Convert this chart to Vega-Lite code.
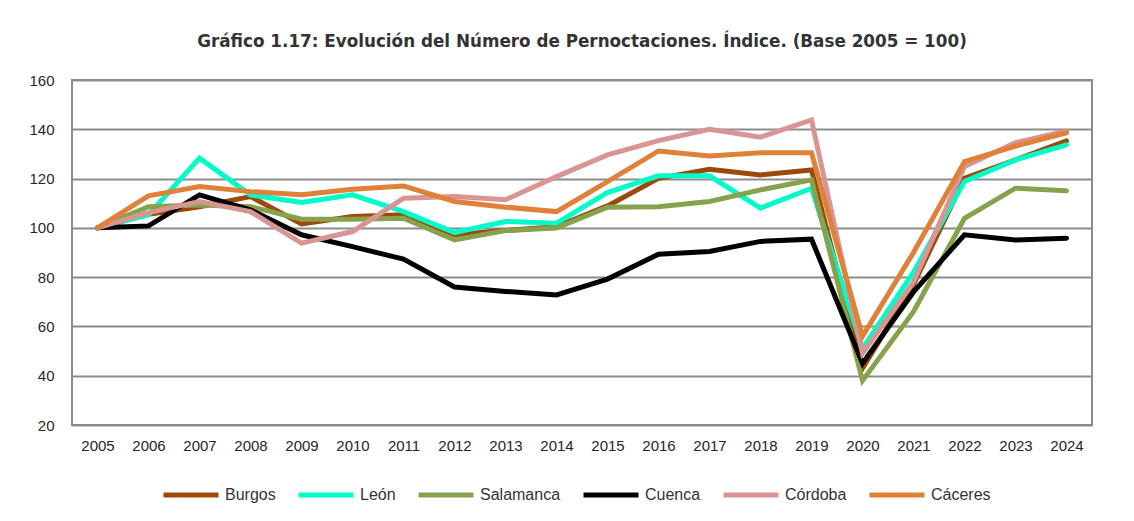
{
  "$schema": "https://vega.github.io/schema/vega-lite/v6.json",
  "autosize": {"type": "none"},
  "width": 1020,
  "height": 345,
  "padding": {"left": 72, "top": 80, "right": 42, "bottom": 96},
  "background": "white",
  "title": {
    "text": "Gráfico 1.17: Evolución del Número de Pernoctaciones. Índice. (Base 2005 = 100)",
    "font": "DejaVu Sans",
    "fontSize": 16.8,
    "fontWeight": "bold",
    "color": "#333333",
    "anchor": "middle",
    "offset": 22
  },
  "config": {
    "view": {"stroke": "#8c8c8c", "strokeWidth": 2},
    "axis": {"labelFont": "Liberation Sans", "labelColor": "#262626", "labelFontSize": 15}
  },
  "data": {
    "values": [
      {"year": "2005", "city": "Burgos", "value": 100},
      {"year": "2006", "city": "Burgos", "value": 105.5},
      {"year": "2007", "city": "Burgos", "value": 108.6},
      {"year": "2008", "city": "Burgos", "value": 112.7},
      {"year": "2009", "city": "Burgos", "value": 101.6},
      {"year": "2010", "city": "Burgos", "value": 104.6},
      {"year": "2011", "city": "Burgos", "value": 105.3},
      {"year": "2012", "city": "Burgos", "value": 97.2},
      {"year": "2013", "city": "Burgos", "value": 98.9},
      {"year": "2014", "city": "Burgos", "value": 100.5},
      {"year": "2015", "city": "Burgos", "value": 108.9},
      {"year": "2016", "city": "Burgos", "value": 120.1},
      {"year": "2017", "city": "Burgos", "value": 123.8},
      {"year": "2018", "city": "Burgos", "value": 121.5},
      {"year": "2019", "city": "Burgos", "value": 123.5},
      {"year": "2020", "city": "Burgos", "value": 43},
      {"year": "2021", "city": "Burgos", "value": 77},
      {"year": "2022", "city": "Burgos", "value": 120.1},
      {"year": "2023", "city": "Burgos", "value": 127.6},
      {"year": "2024", "city": "Burgos", "value": 135.3},

      {"year": "2005", "city": "León", "value": 100},
      {"year": "2006", "city": "León", "value": 105.3},
      {"year": "2007", "city": "León", "value": 128.3},
      {"year": "2008", "city": "León", "value": 113.4},
      {"year": "2009", "city": "León", "value": 110.3},
      {"year": "2010", "city": "León", "value": 113.4},
      {"year": "2011", "city": "León", "value": 106.6},
      {"year": "2012", "city": "León", "value": 98.1},
      {"year": "2013", "city": "León", "value": 102.6},
      {"year": "2014", "city": "León", "value": 101.9},
      {"year": "2015", "city": "León", "value": 114.3},
      {"year": "2016", "city": "León", "value": 121.1},
      {"year": "2017", "city": "León", "value": 121.1},
      {"year": "2018", "city": "León", "value": 108},
      {"year": "2019", "city": "León", "value": 116.1},
      {"year": "2020", "city": "León", "value": 51},
      {"year": "2021", "city": "León", "value": 82},
      {"year": "2022", "city": "León", "value": 118.8},
      {"year": "2023", "city": "León", "value": 127.6},
      {"year": "2024", "city": "León", "value": 133.7},

      {"year": "2005", "city": "Salamanca", "value": 100},
      {"year": "2006", "city": "Salamanca", "value": 108.6},
      {"year": "2007", "city": "Salamanca", "value": 109.3},
      {"year": "2008", "city": "Salamanca", "value": 108.6},
      {"year": "2009", "city": "Salamanca", "value": 103.5},
      {"year": "2010", "city": "Salamanca", "value": 103.5},
      {"year": "2011", "city": "Salamanca", "value": 103.9},
      {"year": "2012", "city": "Salamanca", "value": 95.1},
      {"year": "2013", "city": "Salamanca", "value": 98.9},
      {"year": "2014", "city": "Salamanca", "value": 99.9},
      {"year": "2015", "city": "Salamanca", "value": 108.4},
      {"year": "2016", "city": "Salamanca", "value": 108.6},
      {"year": "2017", "city": "Salamanca", "value": 110.7},
      {"year": "2018", "city": "Salamanca", "value": 115.4},
      {"year": "2019", "city": "Salamanca", "value": 119.5},
      {"year": "2020", "city": "Salamanca", "value": 38},
      {"year": "2021", "city": "Salamanca", "value": 66},
      {"year": "2022", "city": "Salamanca", "value": 103.9},
      {"year": "2023", "city": "Salamanca", "value": 116.1},
      {"year": "2024", "city": "Salamanca", "value": 115.1},

      {"year": "2005", "city": "Cuenca", "value": 100},
      {"year": "2006", "city": "Cuenca", "value": 100.8},
      {"year": "2007", "city": "Cuenca", "value": 113.4},
      {"year": "2008", "city": "Cuenca", "value": 107.3},
      {"year": "2009", "city": "Cuenca", "value": 97.2},
      {"year": "2010", "city": "Cuenca", "value": 92.4},
      {"year": "2011", "city": "Cuenca", "value": 87.3},
      {"year": "2012", "city": "Cuenca", "value": 76},
      {"year": "2013", "city": "Cuenca", "value": 74.2},
      {"year": "2014", "city": "Cuenca", "value": 72.8},
      {"year": "2015", "city": "Cuenca", "value": 79.2},
      {"year": "2016", "city": "Cuenca", "value": 89.3},
      {"year": "2017", "city": "Cuenca", "value": 90.4},
      {"year": "2018", "city": "Cuenca", "value": 94.5},
      {"year": "2019", "city": "Cuenca", "value": 95.4},
      {"year": "2020", "city": "Cuenca", "value": 45},
      {"year": "2021", "city": "Cuenca", "value": 74},
      {"year": "2022", "city": "Cuenca", "value": 97.2},
      {"year": "2023", "city": "Cuenca", "value": 95.1},
      {"year": "2024", "city": "Cuenca", "value": 95.8},

      {"year": "2005", "city": "Córdoba", "value": 100},
      {"year": "2006", "city": "Córdoba", "value": 106.2},
      {"year": "2007", "city": "Córdoba", "value": 110.7},
      {"year": "2008", "city": "Córdoba", "value": 106.6},
      {"year": "2009", "city": "Córdoba", "value": 93.8},
      {"year": "2010", "city": "Córdoba", "value": 98.5},
      {"year": "2011", "city": "Córdoba", "value": 112},
      {"year": "2012", "city": "Córdoba", "value": 112.7},
      {"year": "2013", "city": "Córdoba", "value": 111.4},
      {"year": "2014", "city": "Córdoba", "value": 120.8},
      {"year": "2015", "city": "Córdoba", "value": 129.6},
      {"year": "2016", "city": "Córdoba", "value": 135.4},
      {"year": "2017", "city": "Córdoba", "value": 140},
      {"year": "2018", "city": "Córdoba", "value": 136.8},
      {"year": "2019", "city": "Córdoba", "value": 143.8},
      {"year": "2020", "city": "Córdoba", "value": 49},
      {"year": "2021", "city": "Córdoba", "value": 78},
      {"year": "2022", "city": "Córdoba", "value": 124.9},
      {"year": "2023", "city": "Córdoba", "value": 134.6},
      {"year": "2024", "city": "Córdoba", "value": 139.3},

      {"year": "2005", "city": "Cáceres", "value": 100},
      {"year": "2006", "city": "Cáceres", "value": 113},
      {"year": "2007", "city": "Cáceres", "value": 116.8},
      {"year": "2008", "city": "Cáceres", "value": 114.7},
      {"year": "2009", "city": "Cáceres", "value": 113.4},
      {"year": "2010", "city": "Cáceres", "value": 115.7},
      {"year": "2011", "city": "Cáceres", "value": 117},
      {"year": "2012", "city": "Cáceres", "value": 110.7},
      {"year": "2013", "city": "Cáceres", "value": 108.4},
      {"year": "2014", "city": "Cáceres", "value": 106.6},
      {"year": "2015", "city": "Cáceres", "value": 118.8},
      {"year": "2016", "city": "Cáceres", "value": 131.2},
      {"year": "2017", "city": "Cáceres", "value": 129.2},
      {"year": "2018", "city": "Cáceres", "value": 130.5},
      {"year": "2019", "city": "Cáceres", "value": 130.5},
      {"year": "2020", "city": "Cáceres", "value": 56},
      {"year": "2021", "city": "Cáceres", "value": 90},
      {"year": "2022", "city": "Cáceres", "value": 126.9},
      {"year": "2023", "city": "Cáceres", "value": 133.2},
      {"year": "2024", "city": "Cáceres", "value": 138.6}
    ]
  },
  "mark": {"type": "line", "strokeWidth": 5, "strokeJoin": "miter", "strokeCap": "round"},
  "encoding": {
    "x": {
      "field": "year",
      "type": "ordinal",
      "scale": {"type": "point", "padding": 0.5},
      "axis": {"title": null, "labelAngle": 0, "ticks": false, "domain": false, "labelPadding": 13}
    },
    "y": {
      "field": "value",
      "type": "quantitative",
      "scale": {"domain": [20, 160], "nice": false, "zero": false},
      "axis": {
        "title": null,
        "values": [20, 40, 60, 80, 100, 120, 140, 160],
        "ticks": false,
        "domain": false,
        "labelPadding": 18,
        "gridColor": "#8c8c8c",
        "gridWidth": 2
      }
    },
    "color": {
      "field": "city",
      "type": "nominal",
      "scale": {
        "domain": ["Burgos", "León", "Salamanca", "Cuenca", "Córdoba", "Cáceres"],
        "range": ["#9c4a0a", "#00fcc8", "#86a34b", "#000000", "#d99594", "#df8138"]
      },
      "legend": {
        "title": null,
        "orient": "none",
        "direction": "horizontal",
        "legendX": 89,
        "legendY": 385,
        "symbolType": "stroke",
        "symbolSize": 3025,
        "symbolStrokeWidth": 5,
        "labelFont": "Liberation Sans",
        "labelFontSize": 16,
        "labelColor": "#333333",
        "labelOffset": 4,
        "columnPadding": 12,
        "symbolOffset": 0
      }
    }
  }
}
